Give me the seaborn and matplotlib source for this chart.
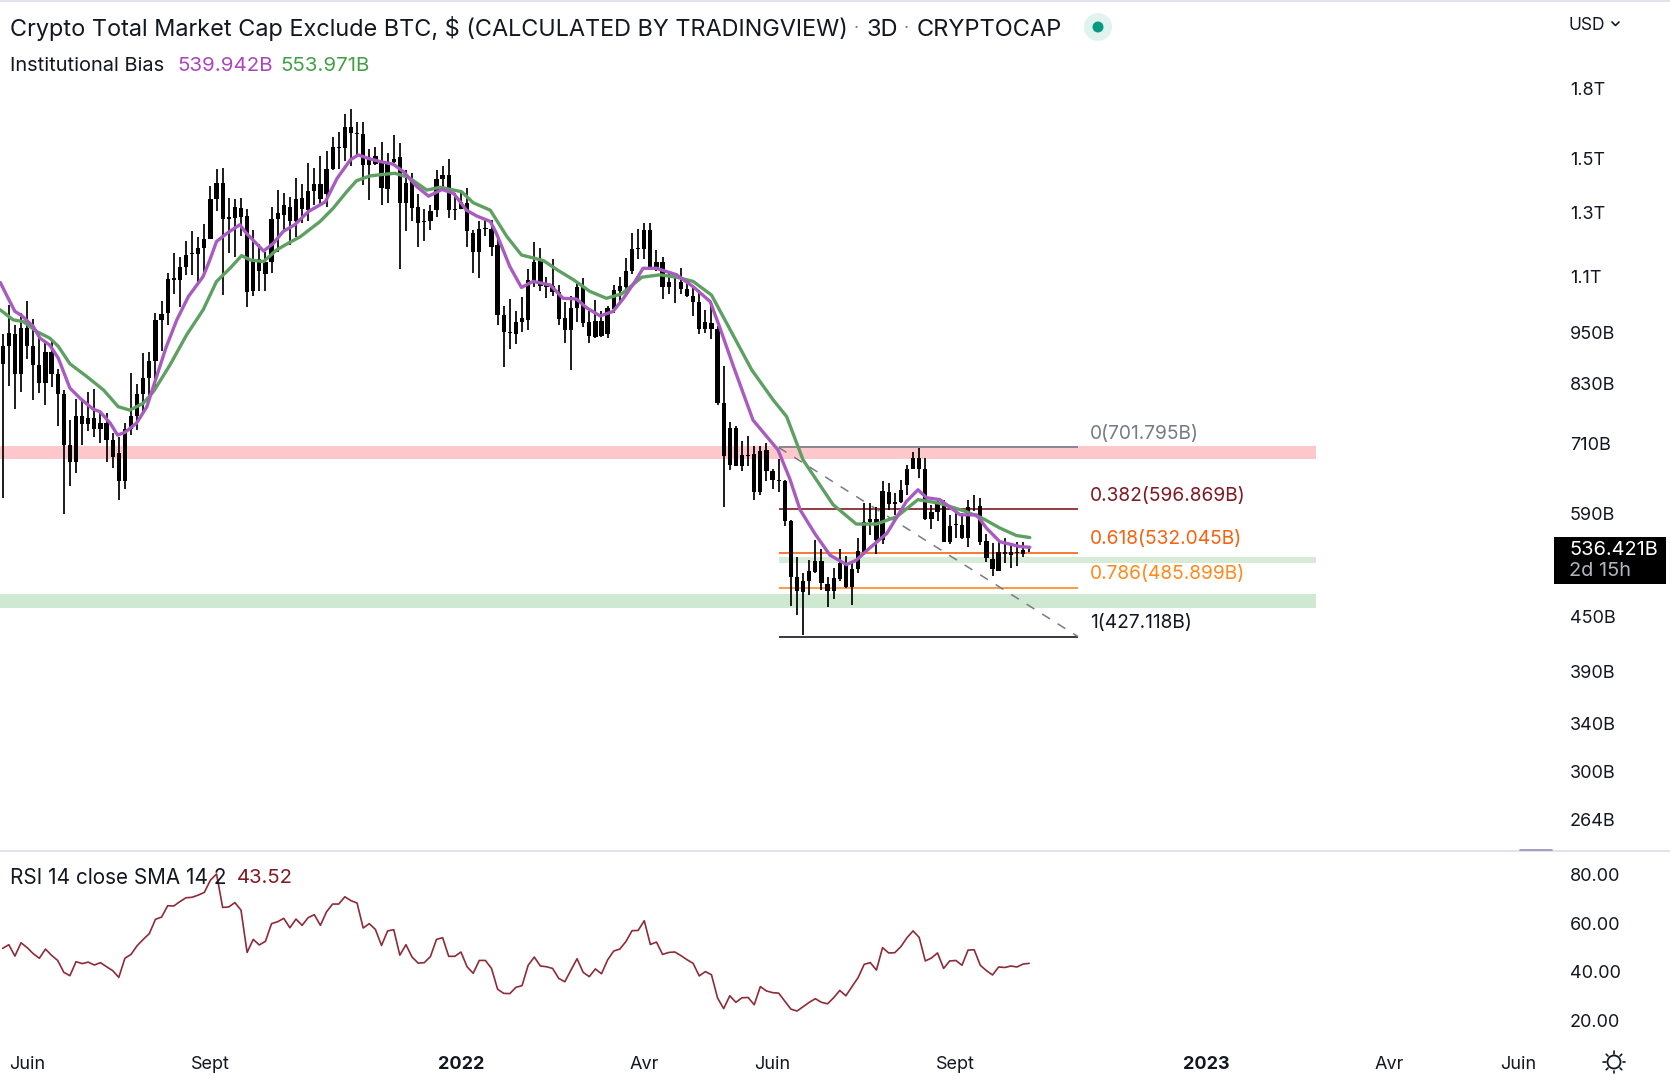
#!/usr/bin/env python3
# Crypto total market cap excl. BTC, 3D candles, with fib levels and RSI pane

import matplotlib
matplotlib.use("Agg")
import matplotlib.pyplot as plt
import numpy as np
import seaborn as sns
from matplotlib.lines import Line2D
from matplotlib.patches import Ellipse, Rectangle

# candles, in billions of dollars (all drawn black, so only top and bottom of the body count)
wick_high = [
    945, 1020, 968, 1000, 1032, 982, 947, 927, 931, 863,
    817, 754, 797, 797, 811, 819, 769, 769, 729, 722,
    749, 853, 829, 899, 902, 998, 1030, 1109, 1168, 1156,
    1205, 1238, 1218, 1262, 1394, 1457, 1460, 1349, 1347, 1349,
    1311, 1243, 1197, 1171, 1320, 1379, 1367, 1353, 1424, 1400,
    1481, 1460, 1509, 1529, 1584, 1608, 1683, 1705, 1650, 1647,
    1534, 1543, 1566, 1519, 1593, 1559, 1454, 1444, 1364, 1311,
    1326, 1454, 1469, 1498, 1370, 1381, 1385, 1241, 1270, 1278,
    1275, 1221, 1016, 1036, 1005, 1041, 1120, 1202, 1186, 1097,
    1150, 1075, 1028, 1043, 1082, 1096, 1003, 1034, 1003, 1016,
    1075, 1097, 1153, 1231, 1246, 1266, 1264, 1178, 1158, 1109,
    1097, 1125, 1090, 1070, 1061, 1007, 1020, 965, 870, 751,
    743, 713, 724, 704, 704, 710, 663, 680, 645, 580,
    526, 505, 522, 550, 538, 500, 512, 537, 528, 518,
    553, 606, 606, 600, 642, 640, 623, 645, 670, 693,
    701, 683, 604, 614, 612, 588, 591, 591, 612, 620,
    614, 559, 546, 548, 553, 546, 548, 548, 540,
]
body_top = [
    915, 947, 945, 960, 959, 917, 871, 901, 901, 851,
    808, 707, 763, 763, 758, 758, 749, 749, 715, 691,
    736, 762, 808, 843, 881, 981, 996, 1092, 1094, 1127,
    1164, 1168, 1186, 1213, 1347, 1406, 1404, 1285, 1318, 1316,
    1288, 1152, 1152, 1141, 1279, 1298, 1325, 1318, 1347, 1352,
    1376, 1401, 1400, 1457, 1543, 1543, 1626, 1626, 1603, 1596,
    1500, 1508, 1481, 1481, 1495, 1503, 1406, 1412, 1320, 1272,
    1306, 1419, 1433, 1436, 1311, 1335, 1334, 1231, 1246, 1248,
    1246, 1194, 994, 951, 976, 986, 1090, 1142, 1144, 1075,
    1072, 1055, 986, 1012, 1070, 1069, 976, 978, 979, 1012,
    1061, 1072, 1115, 1180, 1184, 1243, 1243, 1142, 1142, 1083,
    1084, 1083, 1065, 1045, 1028, 975, 973, 957, 789, 738,
    739, 688, 688, 689, 695, 697, 659, 645, 642, 578,
    500, 494, 507, 521, 521, 491, 498, 518, 518, 510,
    535, 577, 581, 581, 626, 625, 608, 627, 663, 683,
    683, 663, 592, 608, 607, 571, 574, 573, 600, 601,
    602, 549, 524, 533, 533, 533, 534, 536, 538,
]
body_bottom = [
    873, 915, 851, 851, 917, 871, 832, 832, 851, 808,
    706, 676, 676, 746, 746, 736, 736, 715, 685, 642,
    642, 736, 762, 808, 843, 881, 981, 998, 1089, 1090,
    1128, 1165, 1166, 1186, 1213, 1347, 1278, 1278, 1282, 1286,
    1056, 1058, 1114, 1107, 1141, 1278, 1292, 1272, 1272, 1311,
    1308, 1374, 1347, 1364, 1456, 1539, 1539, 1600, 1596, 1473,
    1473, 1476, 1385, 1384, 1486, 1332, 1334, 1315, 1266, 1267,
    1270, 1308, 1418, 1308, 1307, 1312, 1240, 1171, 1171, 1245,
    1188, 994, 951, 947, 945, 975, 981, 1080, 1072, 1070,
    1054, 983, 956, 954, 1011, 973, 941, 937, 941, 945,
    1009, 1059, 1070, 1115, 1180, 1181, 1125, 1125, 1070, 1070,
    1082, 1063, 1045, 1027, 957, 957, 958, 788, 686, 670,
    668, 668, 687, 624, 624, 659, 645, 642, 579, 500,
    481, 480, 494, 506, 492, 482, 482, 497, 487, 487,
    510, 534, 577, 551, 551, 605, 605, 608, 636, 663,
    664, 581, 581, 592, 548, 548, 573, 553, 554, 600,
    548, 525, 510, 508, 531, 529, 532, 530, 537,
]
wick_low = [
    614, 825, 776, 811, 885, 795, 809, 784, 823, 743,
    589, 635, 657, 707, 732, 722, 710, 675, 665, 611,
    629, 725, 735, 771, 806, 823, 904, 969, 1050, 1014,
    1104, 1104, 1083, 1107, 1212, 1306, 1048, 1168, 1158, 1223,
    1014, 1045, 1057, 1057, 1109, 1173, 1241, 1194, 1218, 1264,
    1270, 1326, 1326, 1320, 1454, 1457, 1489, 1469, 1512, 1397,
    1344, 1472, 1326, 1332, 1481, 1122, 1237, 1270, 1188, 1205,
    1243, 1286, 1379, 1281, 1275, 1311, 1188, 1109, 1095, 1221,
    1160, 968, 867, 909, 920, 951, 956, 1068, 1058, 1038,
    1043, 968, 923, 859, 976, 962, 923, 935, 937, 935,
    1000, 1025, 1047, 1107, 1150, 1150, 1123, 1114, 1036, 1049,
    1025, 1050, 1041, 992, 944, 947, 933, 784, 601, 662,
    668, 659, 668, 611, 620, 642, 630, 624, 571, 463,
    452, 429, 477, 505, 483, 462, 472, 494, 485, 464,
    505, 533, 558, 530, 545, 595, 588, 607, 619, 663,
    647, 580, 566, 578, 547, 545, 553, 552, 541, 594,
    543, 519, 501, 507, 518, 511, 514, 527, 534,
]

# Institutional Bias averages, read at the bends of the curves (candle number, price)
fast_x = [
    -0.4, 0.9, 2.0, 3.1, 5.0, 6.1, 7.7, 9.1, 11.0, 12.7, 14.8, 15.9, 17.6, 18.8, 20.0, 21.9,
    23.6, 25.2, 26.8, 28.5, 30.4, 32.8, 33.9, 35.0, 36.7, 38.8, 39.9, 42.7, 44.3, 45.9, 47.8,
    50.0, 52.8, 54.7, 56.9, 58.2, 59.9, 61.8, 63.9, 65.6, 67.8, 69.7, 71.9, 73.8, 75.9, 77.6,
    79.8, 80.8, 83.0, 84.9, 86.8, 89.6, 91.7, 93.9, 95.6, 97.8, 99.9, 101.6, 103.5, 104.8,
    107.0, 110.3, 113.0, 115.8, 117.4, 119.6, 122.8, 126.9, 128.8, 130.5, 132.9, 135.4,
    138.1, 139.7, 141.9, 144.7, 147.9, 149.8, 151.2, 153.4, 156.7, 159.4, 161.0, 163.2,
    166.5, 168.1,
]
fast_ma = [
    1082, 1038, 1003, 992, 964, 935, 918, 887, 820, 798, 776, 771, 748, 725, 730, 748,
    781, 846, 915, 981, 1043, 1099, 1148, 1205, 1231, 1259, 1231, 1175, 1199, 1237, 1259,
    1303, 1337, 1421, 1493, 1512, 1498, 1486, 1476, 1447, 1391, 1357, 1381, 1367, 1308, 1288,
    1270, 1231, 1128, 1068, 1085, 1075, 1038, 1036, 1012, 991, 1003, 1038, 1085, 1123,
    1123, 1104, 1070, 1029, 960, 868, 754, 697, 647, 596, 560, 529,
    516, 522, 539, 560, 609, 628, 615, 612, 588, 588, 568, 548,
    541, 540,
]
slow_x = [
    -0.4, 1.7, 3.4, 5.6, 7.7, 9.1, 11.0, 13.7, 16.5, 18.9, 20.8, 23.0, 24.7, 27.4, 30.1, 32.8,
    35.0, 37.2, 39.1, 40.5, 42.7, 44.8, 46.5, 48.7, 51.9, 54.1, 56.3, 57.9, 60.1, 62.3, 64.2,
    66.4, 69.4, 71.6, 75.1, 77.0, 79.8, 82.5, 84.9, 88.5, 90.7, 93.4, 96.1, 98.8, 101.3, 104.6,
    107.6, 110.3, 113.0, 116.0, 118.5, 122.6, 126.1, 128.3, 131.0, 135.9, 139.7, 143.0, 146.3,
    149.8, 153.4, 157.7, 160.5, 163.2, 165.9, 168.1,
]
slow_ma = [
    1007, 981, 976, 951, 935, 915, 874, 846, 816, 781, 774, 788, 813, 872, 943, 1007,
    1085, 1123, 1161, 1148, 1143, 1178, 1197, 1220, 1269, 1315, 1373, 1413, 1431, 1437, 1441,
    1426, 1379, 1389, 1373, 1334, 1308, 1221, 1163, 1146, 1119, 1090, 1057, 1038, 1050, 1097,
    1104, 1097, 1085, 1047, 972, 860, 795, 761, 679, 604, 574, 574, 585,
    612, 606, 593, 582, 568, 557, 553.97,
]

rsi = [
    49.7, 51.2, 46.5, 52.0, 50.0, 47.5, 45.6, 49.4, 46.8, 44.7,
    39.8, 38.4, 44.2, 43.4, 44.0, 42.8, 43.8, 42.1, 40.5, 37.7,
    45.6, 47.2, 50.8, 53.4, 55.8, 61.7, 62.6, 67.3, 67.2, 69.0,
    70.6, 70.8, 71.7, 72.8, 77.9, 80.4, 66.6, 66.8, 68.6, 65.5,
    48.0, 53.4, 51.1, 52.6, 59.9, 60.7, 62.1, 58.2, 61.8, 59.2,
    62.4, 63.6, 59.2, 64.8, 68.0, 68.0, 71.0, 69.4, 68.4, 58.1,
    59.9, 57.5, 50.9, 56.9, 57.4, 46.9, 51.2, 46.1, 43.6, 43.8,
    46.3, 53.4, 54.1, 46.4, 46.4, 48.2, 42.1, 39.4, 44.7, 44.7,
    41.4, 32.8, 31.1, 31.0, 33.6, 34.3, 42.7, 46.1, 42.4, 42.1,
    41.4, 37.3, 35.9, 40.7, 45.4, 39.8, 38.0, 41.2, 39.2, 44.9,
    48.6, 49.4, 52.5, 57.0, 57.1, 61.1, 51.3, 52.3, 47.2, 48.0,
    48.2, 46.7, 45.0, 43.5, 38.3, 40.1, 38.8, 29.2, 24.8, 30.1,
    27.4, 29.3, 29.4, 26.4, 33.9, 32.1, 31.4, 31.2, 27.9, 24.6,
    23.8, 25.6, 27.4, 28.9, 27.4, 26.8, 29.3, 32.3, 30.1, 33.9,
    37.6, 43.1, 43.8, 40.7, 50.0, 47.8, 47.9, 50.4, 54.1, 56.9,
    54.2, 44.5, 45.7, 47.8, 41.4, 44.5, 44.7, 42.7, 49.0, 49.1,
    42.7, 40.5, 38.7, 42.0, 41.8, 42.4, 42.0, 43.2, 43.5,
]

fib_levels = [701.795, 596.869, 532.045, 485.899, 427.118]
fib_labels = ["0(701.795B)", "0.382(596.869B)", "0.618(532.045B)", "0.786(485.899B)", "1(427.118B)"]
fib_colors = ["#787b86", "#801922", "#f7620f", "#ff8a1c", "#131722"]

price_ticks = [1800, 1500, 1300, 1100, 950, 830, 710, 590, 450, 390, 340, 300, 264]
price_tick_labels = ["1.8T", "1.5T", "1.3T", "1.1T", "950B", "830B", "710B", "590B", "450B",
                     "390B", "340B", "300B", "264B"]
rsi_ticks = [80, 60, 40, 20]
rsi_tick_labels = ["80.00", "60.00", "40.00", "20.00"]
time_ticks = [4, 34, 75, 105, 126, 156, 197, 227, 248]
time_labels = ["Juin", "Sept", "2022", "Avr", "Juin", "Sept", "2023", "Avr", "Juin"]

W, H = 1670, 1080
FONT = "Inter"
TEXT = "#131722"

sns.set_theme(style="white")
plt.rcParams["font.family"] = [FONT, "DejaVu Sans"]

fig = plt.figure(figsize=(W / 100, H / 100), dpi=100, facecolor="white")


def axes_px(left, top, right, bottom):
    return fig.add_axes([left / W, 1 - bottom / H, (right - left) / W, (bottom - top) / H])


def fig_text(x, y, s, **kw):
    kw.setdefault("color", TEXT)
    kw.setdefault("fontsize", 13)
    fig.text(x / W, 1 - y / H, s, va="center", ha=kw.pop("ha", "left"), **kw)


def fig_line(xs, ys, **kw):
    fig.add_artist(Line2D([x / W for x in xs], [1 - y / H for y in ys], transform=fig.transFigure, **kw))


ax = axes_px(0, 3, 1552, 850)
ax_rsi = axes_px(0, 852, 1552, 1043)

px_per_candle = 6.11
xlim = (-2.7 / px_per_candle, (1552 - 2.7) / px_per_candle)

# main pane
x = np.arange(len(body_top))
ax.set_yscale("log")
ax.fill_between([xlim[0], 215], 681, 704, color="#fcc8cc", lw=0, zorder=1)
ax.fill_between([xlim[0], 215], 461, 477.7, color="#cfe8d1", lw=0, zorder=1)
ax.fill_between([127, 215], 518, 527, color="#d6ecd6", lw=0, zorder=1)

for level, color in zip(fib_levels, fib_colors):
    ax.hlines(level, 127, 176, color=color, lw=1.2, zorder=2)
ax.plot([127, 176], [fib_levels[0], fib_levels[-1]], color="#787b86", lw=1.1, ls=(0, (6, 6)), zorder=2)

ax.vlines(x, wick_low, wick_high, color="black", lw=1.25, zorder=3)
ax.bar(x, np.array(body_top) - np.array(body_bottom), bottom=body_bottom, width=0.7,
       color="black", linewidth=0, zorder=3)

sns.lineplot(x=slow_x, y=slow_ma, ax=ax, color="#5ea062", lw=2.4, sort=False, estimator=None, zorder=4,
             solid_joinstyle="round")
sns.lineplot(x=fast_x, y=fast_ma, ax=ax, color="#a85cbf", lw=2.4, sort=False, estimator=None, zorder=4,
             solid_joinstyle="round")

for level, label, color in zip(fib_levels, fib_labels, fib_colors):
    ax.annotate(label, (178, level), xytext=(0, 9.8), textcoords="offset points",
                color=color, fontsize=13.8, va="center", ha="left")

ax.set_xlim(xlim)
ax.set_ylim(244, 2253)
ax.yaxis.tick_right()
ax.set_yticks(price_ticks, price_tick_labels)
ax.minorticks_off()
ax.tick_params(axis="y", length=0, pad=13, labelsize=13, labelcolor=TEXT)
ax.set_xticks([])
ax.set_xlabel("")
ax.set_ylabel("")

# RSI pane
sns.lineplot(x=x, y=rsi, ax=ax_rsi, color="#8e2b38", lw=1.2, sort=False, estimator=None)
ax_rsi.set_xlim(xlim)
ax_rsi.set_ylim(10.6, 89.5)
ax_rsi.yaxis.tick_right()
ax_rsi.set_yticks(rsi_ticks, rsi_tick_labels)
ax_rsi.set_xticks(time_ticks, time_labels)
ax_rsi.tick_params(axis="y", length=0, pad=13, labelsize=13, labelcolor=TEXT)
ax_rsi.tick_params(axis="x", length=0, pad=9.5, labelsize=13, labelcolor=TEXT)
for tick, label in zip(ax_rsi.get_xticklabels(), time_labels):
    if label.isdigit():
        tick.set_fontweight("bold")
ax_rsi.set_xlabel("")
ax_rsi.set_ylabel("")

for a in (ax, ax_rsi):
    sns.despine(ax=a, left=True, bottom=True, right=True, top=True)
    a.patch.set_alpha(0)

# pane separator and top strip
fig.add_artist(Rectangle((0, 1 - 2 / H), 1, 2 / H, transform=fig.transFigure, color="#e0e3eb", lw=0))
fig.add_artist(Rectangle((0, 1 - 852 / H), 1, 2 / H, transform=fig.transFigure, color="#e0e3eb", lw=0))
fig_line([1520, 1552], [850, 850], color="#9c8fc4", lw=1.2)

# header texts
fig_text(10, 28.5, "Crypto Total Market Cap Exclude BTC, $ (CALCULATED BY TRADINGVIEW)", fontsize=16.9)
fig_text(856, 28.5, "·", fontsize=13, color="#787b86", ha="center")
fig_text(867, 30.5, "3D", fontsize=17)
fig_text(906, 28.5, "·", fontsize=13, color="#787b86", ha="center")
fig_text(917, 30.5, "CRYPTOCAP", fontsize=17)
fig.add_artist(Ellipse((1098 / W, 1 - 27 / H), 28 / W, 28 / H, transform=fig.transFigure, color="#e0f3ee", lw=0))
fig.add_artist(Ellipse((1098 / W, 1 - 27 / H), 11 / W, 11 / H, transform=fig.transFigure, color="#089981", lw=0))
fig_text(10, 66, "Institutional Bias", fontsize=14.4)
fig_text(177, 66, "539.942B", fontsize=14.8, color="#ab47bc")
fig_text(280, 66, "553.971B", fontsize=14.8, color="#43a047")
fig_text(10, 878, "RSI 14 close SMA 14 2", fontsize=14.9)
fig_text(237, 878, "43.52", fontsize=14.6, color="#801922")

# currency selector and settings icon
fig_text(1569, 26, "USD", fontsize=12.5)
fig_line([1612, 1615.5, 1619], [22, 25.5, 22], color=TEXT, lw=1.2)
fig.add_artist(Ellipse((1614 / W, 1 - 1062 / H), 13 / W, 13 / H, transform=fig.transFigure,
                       fill=False, ec=TEXT, lw=1.3))
for angle in np.arange(0, 360, 45):
    dx, dy = np.cos(np.radians(angle)), np.sin(np.radians(angle))
    fig_line([1614 + 8.5 * dx, 1614 + 11 * dx], [1062 + 8.5 * dy, 1062 + 11 * dy], color=TEXT, lw=1.2)

# last price tag
fig.add_artist(Rectangle((1554 / W, 1 - 584 / H), 112 / W, 47 / H, transform=fig.transFigure, color="black", lw=0))
fig_text(1569, 550, "536.421B", fontsize=14.4, color="white")
fig_text(1569, 571.5, "2d 15h", fontsize=14.4, color="#b2b5be")

fig.savefig("out.png", dpi=100, facecolor="white")
